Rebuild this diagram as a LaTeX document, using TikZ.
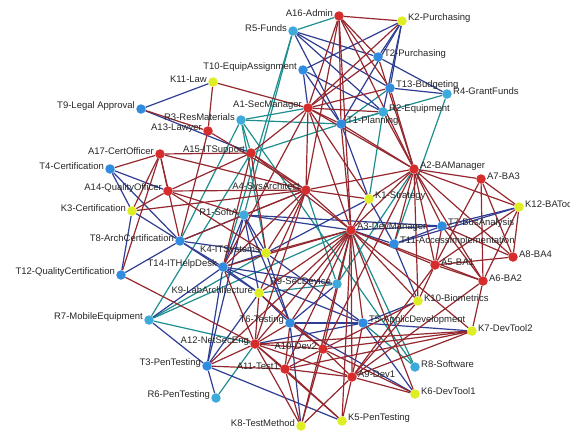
\documentclass[tikz,border=0pt]{standalone}
\usepackage{fontspec}
\setmainfont{Liberation Sans}
\usetikzlibrary{backgrounds}
\definecolor{nred}{RGB}{214,44,44}
\definecolor{nyel}{RGB}{222,238,34}
\definecolor{nblu}{RGB}{48,140,222}
\definecolor{ncya}{RGB}{62,170,220}
\definecolor{ered}{RGB}{148,40,46}
\definecolor{eblu}{RGB}{46,62,148}
\definecolor{etea}{RGB}{30,142,142}
\tikzset{
  vtx/.style={circle,inner sep=0pt,minimum size=9.5pt},
  va/.style={vtx,fill=nred},
  vk/.style={vtx,fill=nyel},
  vt/.style={vtx,fill=nblu},
  vr/.style={vtx,fill=ncya},
  lbl/.style={font=\fontsize{9.5}{10}\selectfont,text=black!85,inner sep=1pt,yshift=3pt},
  lr/.style={label={[lbl]right:#1}},
  ll/.style={label={[lbl]left:#1}},
  re/.style={draw=ered,line width=1.2pt},
  be/.style={draw=eblu,line width=1.2pt},
  te/.style={draw=etea,line width=1.2pt}
}
\begin{document}
\begin{tikzpicture}[x=1pt,y=-1pt]
\useasboundingbox (0,0) rectangle (570,432);
% nodes
\node[va,ll=A16-Admin] (a16) at (339,16) {};
\node[vk,lr=K2-Purchasing] (k2) at (402,21) {};
\node[vr,ll=R5-Funds] (r5) at (293,31) {};
\node[vt,ll=T10-EquipAssignment] (t10) at (303,70) {};
\node[vk,ll=K11-Law] (k11) at (213,82) {};
\node[vt,lr=T2-Purchasing] (t2) at (378,57) {};
\node[vt,lr=T13-Budgeting] (t13) at (390,88) {};
\node[vr,lr=R4-GrantFunds] (r4) at (447,94) {};
\node[vr,lr=R2-Equipment] (r2) at (383,112) {};
\node[vt,lr=T1-Planning] (t1) at (341,124) {};
\node[va,ll=A1-SecManager] (a1) at (308,108) {};
\node[vr,ll=R3-ResMaterials] (r3) at (241,120) {};
\node[va,ll=A13-Lawyer] (a13) at (208,131) {};
\node[vt,ll=T9-Legal Approval] (t9) at (141,109) {};
\node[va,ll=A15-ITSupport] (a15) at (251,153) {};
\node[va,ll=A17-CertOfficer] (a17) at (160,154) {};
\node[vt,ll=T4-Certification] (t4) at (110,169) {};
\node[va,ll=A14-QualityOfficer] (a14) at (168,191) {};
\node[vk,ll=K3-Certification] (k3) at (132,211) {};
\node[vt,ll=T8-ArchCertification] (t8) at (180,241) {};
\node[vt,ll=T12-QualityCertification] (t12) at (121,275) {};
\node[va,ll=A4-SysArchitect] (a4) at (306,190) {};
\node[vr,ll=R1-SoftA] (r1) at (244,215) {};
\node[vk,lr=K1-Strategy] (k1) at (369,199) {};
\node[va,lr=A2-BAManager] (a2) at (414,169) {};
\node[va,lr=A7-BA3] (a7) at (481,179) {};
\node[vk,lr=K12-BATool] (k12) at (519,207) {};
\node[vt,lr=T7-BusAnalysis] (t7) at (442,226) {};
\node[vt,lr=T11-AccessImplementation] (t11) at (394,244) {};
\node[va,lr=A3-DevManager] (a3) at (351,230) {};
\node[va,lr=A8-BA4] (a8) at (513,257) {};
\node[va,lr=A5-BA1] (a5) at (435,265) {};
\node[va,lr=A6-BA2] (a6) at (483,281) {};
\node[vk,lr=K10-Biometrics] (k10) at (418,301) {};
\node[vk,lr=K7-DevTool2] (k7) at (472,331) {};
\node[vt,lr=T5-ApplicDevelopment] (t5) at (363,323) {};
\node[vr,lr=R8-Software] (r8) at (415,367) {};
\node[vk,lr=K6-DevTool1] (k6) at (415,394) {};
\node[vk,lr=K5-PenTesting] (k5) at (342,421) {};
\node[vk,ll=K8-TestMethod] (k8) at (301,426) {};
\node[va,lr=A9-Dev1] (a9) at (352,377) {};
\node[va,ll=A10-Dev2] (a10) at (323,349) {};
\node[va,ll=A11-Test1] (a11) at (285,369) {};
\node[va,ll=A12-NetSecEng] (a12) at (255,344) {};
\node[vt,ll=T6-Testing] (t6) at (290,323) {};
\node[vt,ll=T3-PenTesting] (t3) at (207,366) {};
\node[vr,ll=R6-PenTesting] (r6) at (216,398) {};
\node[vr,ll=R7-MobileEquipment] (r7) at (149,320) {};
\node[vk,ll=K9-LabArchitecture] (k9) at (259,293) {};
\node[vt,ll=T14-ITHelpDesk] (t14) at (223,267) {};
\node[vk,ll=K4-ITSystems] (k4) at (266,253) {};
\node[vr,ll=R9-SecDevice] (r9) at (337,284) {};
% edges
\begin{pgfonlayer}{background}
\foreach \a/\b in {r5/a16, r5/t14, r3/a1, r3/t1, r3/a15, r3/t8, r4/t1, r4/t11, r2/t1, r2/k1, t13/t1, t1/a15, r3/r8, r8/a3, r8/t5, r7/k4, r7/a12, r7/a15, r7/a3, r6/a12, r9/a3, r9/a4, r9/a2, r9/k9, r1/r5, r3/k4}
  \draw[te] (\a) -- (\b);
\foreach \a/\b in {k11/t9, t9/a15, k2/t2, k2/t13, k2/t1, k2/r2, k2/t10, t2/r4, t2/r5, t13/r4, t13/r5, t10/t1, t10/r2, t10/a1, r5/t1, r5/r2,
  t4/k3, t4/a14, t4/t8, k3/t8, k3/t12, t12/t8, t8/t14, t8/r1, t8/k4, t8/k9,
  r1/a3, r1/t14, r1/k4, r1/k9, r1/t3, r1/t6,
  t14/k4, t14/k9, t14/t3, t14/r9, t14/t5,
  k4/t6, k4/t5, k4/k1,
  t7/a3, t7/k12, t7/t11, t7/r1, t11/a3, t11/k10, t11/k12,
  t5/k7, t5/k6, t5/k10, t5/t6, t5/a12,
  t6/k9, t6/k8, t6/r9, t6/k6,
  t3/r6, t3/k5, t3/r7, t3/k9,
  k1/t1, k1/t11, r7/t14}
  \draw[be] (\a) -- (\b);
\foreach \a/\b in {a16/k2, a16/a1, a16/a4, a16/t13, a16/t2, a16/a3, a16/a2, a16/t1,
  k11/a1, k11/a13, t9/a13,
  a1/t1, a1/a2, a1/a3, a1/a4, a1/a15, a1/t13, a1/r2, a1/k1, a1/t2, a1/k2, a1/t14,
  a13/a4, a13/t8,
  a15/a4, a15/a3, a15/a17, a15/k4, a15/t14, a15/a14,
  a17/t4, a17/a14, a17/k3, a17/a4, a17/t12, a17/t8,
  a14/k3, a14/a4, a14/r1, a14/k4,
  k3/a4,
  a4/a3, a4/k1, a4/r1, a4/k4, a4/t14, a4/k9, a4/a12, a4/t8, a4/a2,
  a2/a7, a2/k12, a2/t7, a2/a5, a2/a6, a2/a8, a2/k1, a2/a3, a2/t1, a2/r2, a2/t13, a2/t2, a2/t11, a2/a10, a2/k10,
  a7/k12, a7/a5, a7/a8, a7/a6,
  k12/a5, k12/a6, k12/a8,
  a8/t7, a8/a5,
  a5/t7, a5/a6, a5/a3, a5/k10, a5/a9,
  a6/t7, a6/k7, a6/a9, a6/a3,
  a3/k1, a3/t1, a3/a9, a3/a10, a3/a11, a3/a12, a3/t5, a3/t6, a3/k10, a3/k9, a3/k4, a3/t14, a3/k7, a3/k6, a3/k8, a3/t3, a3/k5,
  a9/k10, a9/k7, a9/k6, a9/a10, a9/a11, a9/k8, a9/k5, a9/t5, a9/a12,
  a10/a12, a10/a11, a10/k10, a10/k7, a10/k8, a10/t6, a10/k6, a10/k9,
  a11/a12, a11/k8, a11/k5, a11/t6, a11/k7, a11/t3,
  a12/t3, a12/k9, a12/t6, a12/k8, a12/k5, a12/t14, a12/t12, a12/k7}
  \draw[re] (\a) -- (\b);
\end{pgfonlayer}
\end{tikzpicture}
\end{document}
